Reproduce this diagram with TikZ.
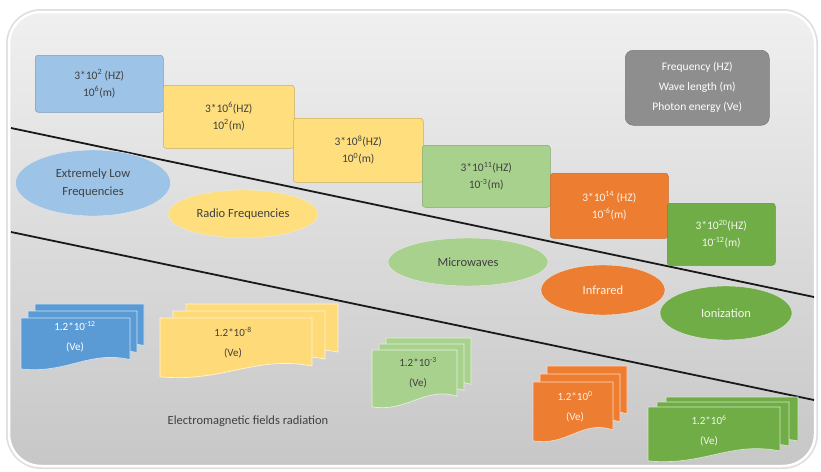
\documentclass[tikz,border=0pt]{standalone}
\usepackage{fontspec}
\setmainfont{Carlito}
\usetikzlibrary{shapes.geometric}
\definecolor{cblue}{HTML}{9DC3E6}
\definecolor{cbluedk}{HTML}{5B9BD5}
\definecolor{cyel}{HTML}{FFD966}
\definecolor{cyeldoc}{HTML}{FFDA78}
\definecolor{cgrnl}{HTML}{A9D18E}
\definecolor{corg}{HTML}{ED7D31}
\definecolor{cgrn}{HTML}{70AD47}
\definecolor{cgray}{HTML}{8E8E8E}
\definecolor{ctxt}{HTML}{404040}
\newcommand\sx[1]{\textsuperscript{#1}}
\newcommand\mydocs[7]{%
  \foreach \k in {2,1,0}{%
    \path[fill=#7, draw=white!70!#7, line width=0.7pt, shift={({#1+\k*#5},{#2+\k*#6})}]
      (0,0) -- (#3,0) -- (#3,{0.8*#4})
      .. controls ({0.62*#3},{0.62*#4}) and ({0.42*#3},{1.08*#4}) .. (0,{0.98*#4}) -- cycle;
  }%
}
\tikzset{
  hbox/.style={rectangle, rounded corners=3pt, align=center, anchor=north west,
    inner sep=2pt, font=\fontsize{11.5}{17}\selectfont, text=ctxt, line width=0.5pt},
  oval/.style={ellipse, align=center, inner sep=0pt, font=\fontsize{12.5}{18}\selectfont,
    text=ctxt, draw=white!40!black!15, line width=0.4pt},
  doctext/.style={align=center, font=\fontsize{11}{20}\selectfont, text=ctxt},
  divline/.style={line width=1.8pt, black!90}
}
\begin{document}
\begin{tikzpicture}[x=1pt,y=-1pt]
\useasboundingbox (0,0) rectangle (821,471);
\fill[white] (0,0) rectangle (821,471);
% background panel
\draw[gray!25, line width=6pt, rounded corners=32pt] (9,12) rectangle (815,466);
\shade[rounded corners=32pt, top color=black!6, bottom color=black!22] (9,12) rectangle (815,466);
\draw[white, line width=2.5pt, rounded corners=32pt] (9,12) rectangle (815,466);
% dividing lines
\coordinate (l1a) at (11,128);
\coordinate (l1b) at (814,297);
\coordinate (l2a) at (11,232);
\coordinate (l2b) at (814,400);
\draw[divline] (l1a) -- (l1b);
\draw[divline] (l2a) -- (l2b);
% legend
\node[hbox, fill=cgray, draw=cgray!85!black, text=white, rounded corners=8pt,
  minimum width=144pt, minimum height=75pt, font=\fontsize{11.5}{20}\selectfont] (leg) at (625,50)
  {Frequency (HZ)\\Wave length (m)\\Photon energy (Ve)};
% frequency boxes
\node[hbox, fill=cblue, draw=cblue!80!black, minimum width=128pt, minimum height=57pt] (f1) at (35,55)
  {3*10\sx{2} (HZ)\\10\sx{6}(m)};
\node[hbox, fill=cyel!85!white, draw=cyel!80!black, minimum width=131pt, minimum height=63pt] (f2) at (163,85)
  {3*10\sx{6}(HZ)\\10\sx{2}(m)};
\node[hbox, fill=cyel!85!white, draw=cyel!80!black, minimum width=130pt, minimum height=64pt] (f3) at (293,118)
  {3*10\sx{8}(HZ)\\10\sx{0}(m)};
\node[hbox, fill=cgrnl, draw=cgrnl!80!black, minimum width=128pt, minimum height=62pt] (f4) at (422,145)
  {3*10\sx{11}(HZ)\\10\sx{-3}(m)};
\node[hbox, fill=corg, draw=corg!85!black, text=white!90!corg, minimum width=118pt, minimum height=65pt] (f5) at (550,173)
  {3*10\sx{14} (HZ)\\10\sx{-6}(m)};
\node[hbox, fill=cgrn, draw=cgrn!85!black, text=white!90!cgrn, minimum width=108pt, minimum height=62pt] (f6) at (667,203)
  {3*10\sx{20}(HZ)\\10\sx{-12}(m)};
% ellipses
\node[oval, fill=cblue, minimum width=155pt, minimum height=66pt] (o1) at (93,183)
  {Extremely Low\\Frequencies};
\node[oval, fill=cyel!85!white, minimum width=150pt, minimum height=48pt] (o2) at (243,214)
  {Radio Frequencies};
\node[oval, fill=cgrnl, minimum width=160pt, minimum height=48pt] (o3) at (468,262)
  {Microwaves};
\node[oval, fill=corg, text=white!90!corg, minimum width=124pt, minimum height=50pt] (o4) at (603,290)
  {Infrared};
\node[oval, fill=cgrn, text=white!90!cgrn, minimum width=132pt, minimum height=54pt] (o5) at (726,313)
  {Ionization};
% photon energy documents
\mydocs{21}{318}{109}{52}{7}{-7}{cbluedk}
\node[doctext, text=white] (e1) at (75,337) {1.2*10\sx{-12}\\(Ve)};
\mydocs{160}{318}{152}{60}{13}{-7}{cyeldoc}
\node[doctext] (e2) at (233,343) {1.2*10\sx{-8}\\(Ve)};
\mydocs{372}{350}{85}{58}{7}{-6}{cgrnl}
\node[doctext] (e3) at (418,373) {1.2*10\sx{-3}\\(Ve)};
\mydocs{533}{382}{80}{60}{7}{-8}{corg}
\node[doctext, text=white!90!corg] (e4) at (575,407) {1.2*10\sx{0}\\(Ve)};
\mydocs{648}{407}{132}{55}{9}{-5}{cgrn}
\node[doctext, text=white!90!cgrn] (e5) at (709,431) {1.2*10\sx{6}\\(Ve)};
% caption
\node[font=\fontsize{12.5}{14}\selectfont, text=ctxt] (cap) at (248,421) {Electromagnetic fields radiation};
\end{tikzpicture}
\end{document}
